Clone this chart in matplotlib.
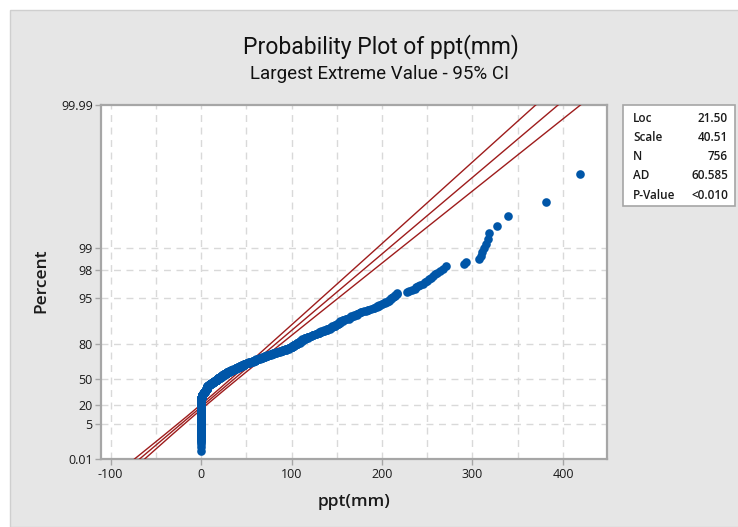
import numpy as np
import matplotlib
matplotlib.use("Agg")
import matplotlib.pyplot as plt
from matplotlib.patches import Rectangle

# ---- data (sorted ppt values and how many observations share each value) ----
ppt_values = [0, 0.5, 1, 1.5, 2,
              3, 4, 5, 6, 7, 8,
              9, 10, 11, 12, 13, 14, 15,
              17, 19, 21, 23, 25,
              27, 29, 31, 33, 35, 37,
              39, 41, 43, 45, 47, 49,
              51, 53, 55, 57, 59, 61, 63,
              65, 67, 69, 71, 73, 75, 77,
              79, 81, 83, 85, 87, 89, 91,
              94, 97, 100, 103, 106, 109, 112, 115, 118,
              121, 124, 127, 130, 133, 136,
              139, 142, 145, 148, 151, 154,
              157, 160, 163, 166, 169, 172,
              175, 177, 180, 182, 185, 188, 191,
              194, 197, 200, 203, 206,
              208, 210, 212, 214, 217,
              228, 230,
              233, 236, 238, 240, 242, 245, 247,
              250, 252, 254, 256, 259, 261,
              264, 267, 271,
              291, 293,
              307, 309, 311, 313, 315, 317, 318,
              327, 339, 381, 419]
ppt_counts = [215, 9, 9, 9, 10,
              13, 13, 13, 13, 12, 8,
              6, 6, 6, 6, 6, 6, 6,
              11, 11, 11, 11, 11,
              7, 7, 7, 7, 7, 5,
              7, 6, 7, 6, 6, 4,
              4, 5, 4, 5, 4, 5, 4,
              4, 4, 4, 4, 4, 4, 4,
              3, 3, 3, 3, 3, 3, 3,
              6, 6, 7, 7, 7, 7, 7, 6, 5,
              3, 4, 3, 4, 3, 3,
              4, 4, 4, 4, 4, 5,
              3, 2, 3, 3, 2, 3,
              1, 2, 1, 1, 2, 1, 2,
              2, 2, 2, 2, 1,
              2, 2, 2, 2, 2,
              1, 1,
              1, 1, 1, 1, 1, 1, 1,
              1, 1, 1, 1, 1, 1,
              1, 1, 1,
              1, 1,
              1, 1, 1, 1, 1, 1, 1,
              1, 1, 1, 1]

# fitted Largest Extreme Value parameters (from the stats box)
loc = 21.50
scale = 40.51
n_obs = 756
stats_labels = ["Loc", "Scale", "N", "AD", "P-Value"]
stats_values = ["21.50", "40.51", "756", "60.585", "<0.010"]

pct_ticks = [0.01, 5, 20, 50, 80, 95, 98, 99, 99.99]
pct_labels = ["0.01", "5", "20", "50", "80", "95", "98", "99", "99.99"]
x_ticks = [-100, 0, 100, 200, 300, 400]

# ---- helpers ----
def gumbel_z(p):
    p = np.asarray(p, dtype=float)
    return -np.log(-np.log(p))

data = np.repeat(np.array(ppt_values, float), ppt_counts)
n = len(data)
ranks = np.arange(1, n + 1)
plot_pos = (ranks - 0.3) / (n + 0.4)          # median ranks
zdata = gumbel_z(plot_pos)

# fitted line and 95% CI
zline = np.linspace(gumbel_z(0.00005), gumbel_z(0.99995), 400)
xfit = loc + scale * zline
se = 1.13 * scale / np.sqrt(n_obs) * np.sqrt(1.1087 + 0.5140 * zline + 0.6079 * zline ** 2)
x_lo = xfit - 1.96 * se
x_hi = xfit + 1.96 * se

# ---- figure ----
W, H = 738, 527
fig = plt.figure(figsize=(W / 100, H / 100), dpi=100)
fig.patch.set_facecolor("white")
fig.patches.append(Rectangle((10 / W, 0), 1, 1 - 10 / H, transform=fig.transFigure,
                             facecolor="#E6E6E6", edgecolor="#CFCFCF", lw=1, zorder=-10))

ax = fig.add_axes([101 / W, (H - 459.3) / H, (607 - 101) / W, (459.3 - 105) / H])
ax.set_facecolor("white")

fontfam = ["Open Sans", "DejaVu Sans"]
titlefam = ["Roboto", "DejaVu Sans"]
red = "#9E1C1C"
blue = "#0056A8"

ax.plot(xfit, zline, color=red, lw=1.0, zorder=3)
ax.plot(x_lo, zline, color=red, lw=1.0, zorder=3)
ax.plot(x_hi, zline, color=red, lw=1.0, zorder=3)
ax.plot(data, zdata, "o", color=blue, ms=6.2, mec=blue, mew=0, zorder=4)

ax.set_xlim(-110.7, 448.7)
ax.set_ylim(gumbel_z(0.0001), gumbel_z(0.9999))

ax.set_xticks(x_ticks)
ax.set_xticklabels([str(v) for v in x_ticks])
ax.set_yticks(gumbel_z(np.array(pct_ticks) / 100))
ax.set_yticklabels(pct_labels)

# grid
for xv in np.arange(-100, 450, 50):
    ax.axvline(xv, color="#D9D9D9", lw=1.0, ls=(0, (5, 4)), zorder=1)
for pv in pct_ticks[1:-1]:
    ax.axhline(gumbel_z(pv / 100), color="#D9D9D9", lw=1.0, ls=(0, (5, 4)), zorder=1)

for s in ax.spines.values():
    s.set_color("#A6A6A6")
    s.set_linewidth(1.6)

ax.tick_params(axis="both", which="major", length=4, width=1, color="#A6A6A6",
               labelsize=9, labelcolor="#1A1A1A", pad=2)
for lab in ax.get_xticklabels() + ax.get_yticklabels():
    lab.set_family(fontfam)

fig.text(354 / W, 1 - 502 / H, "ppt(mm)", ha="center", va="center", fontsize=12.5,
         family=fontfam, fontweight="semibold", color="#1A1A1A")
fig.text(41.5 / W, 1 - 281 / H, "Percent", ha="center", va="center", rotation=90,
         fontsize=12.5, family=fontfam, fontweight="semibold", color="#1A1A1A")

fig.text(381 / W, 1 - 47 / H, "Probability Plot of ppt(mm)", ha="center", va="center",
         fontsize=16.5, family=titlefam, color="#111111")
fig.text(380 / W, 1 - 74 / H, "Largest Extreme Value - 95% CI", ha="center", va="center",
         fontsize=13.5, family=titlefam, color="#111111")

# stats box
fig.patches.append(Rectangle((623 / W, 1 - 206 / H), 112 / W, 101 / H, transform=fig.transFigure,
                             facecolor="white", edgecolor="#A6A6A6", lw=1.2, zorder=5))
for i, (lab, val) in enumerate(zip(stats_labels, stats_values)):
    yy = 1 - (118 + i * 19.3) / H
    fig.text(633 / W, yy, lab, ha="left", va="center", fontsize=8.5, family=fontfam,
             fontweight="semibold", color="#1A1A1A", zorder=6)
    fig.text(728 / W, yy, val, ha="right", va="center", fontsize=8.5, family=fontfam,
             fontweight="semibold", color="#1A1A1A", zorder=6)

fig.savefig("out.png", dpi=100)
